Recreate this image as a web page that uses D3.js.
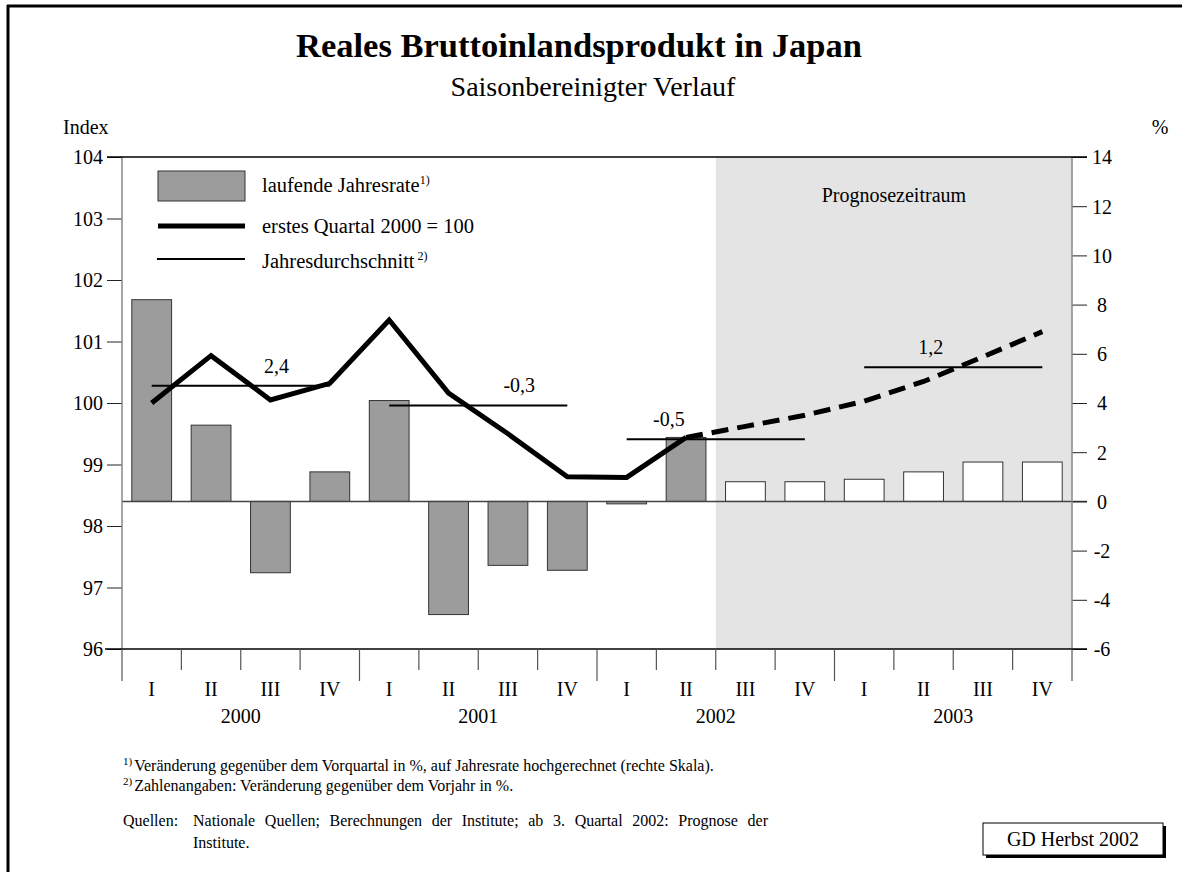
<!DOCTYPE html>
<html>
<head>
<meta charset="utf-8">
<script src="https://cdn.jsdelivr.net/npm/d3@7"></script>
<style>
  body { margin: 0; background: #fff; }
  text { font-family: "Liberation Serif", "Times New Roman", serif; fill: #000; }
</style>
</head>
<body>
<svg id="chart"></svg>
<script>
// Quartale und Jahre
const quarters = ["I", "II", "III", "IV", "I", "II", "III", "IV", "I", "II", "III", "IV", "I", "II", "III", "IV"];
const years = ["2000", "2001", "2002", "2003"];

// laufende Jahresrate in % (rechte Skala)
const rate = [8.2, 3.1, -2.9, 1.2, 4.1, -4.6, -2.6, -2.8, -0.1, 2.6, 0.8, 0.8, 0.9, 1.2, 1.6, 1.6];

// Index, erstes Quartal 2000 = 100 (linke Skala)
const index = [100.0, 100.77, 100.05, 100.32, 101.35, 100.16, 99.5, 98.8, 98.79, 99.44, 99.62, 99.8, 100.03, 100.35, 100.75, 101.16];

// Jahresdurchschnitt (Indexniveau) und Veränderung gegenüber Vorjahr
const yearAvg = [100.28, 99.96, 99.41, 100.58];
const yearAvgLabels = ["2,4", "-0,3", "-0,5", "1,2"];

// ab 3. Quartal 2002 Prognose
const forecastStart = 10;

const leftTicks = [96, 97, 98, 99, 100, 101, 102, 103, 104];
const rightTicks = [-6, -4, -2, 0, 2, 4, 6, 8, 10, 12, 14];

// Lage der Beschriftungen (in Quartalseinheiten)
const avgLabelPos = [2.6, 6.69, 9.21, 13.62];

const width = 1182, height = 872;
const x0 = 122, x1 = 1072, yTop = 157, yBot = 649;

const svg = d3.select("#chart")
    .attr("width", width)
    .attr("height", height)
    .attr("viewBox", [0, 0, width, height]);

svg.append("rect").attr("width", width).attr("height", height).attr("fill", "#fff");

// Rahmen oben und links
svg.append("line").attr("x1", 7).attr("x2", width).attr("y1", 6).attr("y2", 6)
    .attr("stroke", "#000").attr("stroke-width", 3);
svg.append("line").attr("x1", 8).attr("x2", 8).attr("y1", 5).attr("y2", height)
    .attr("stroke", "#000").attr("stroke-width", 3);

// Skalen
const x = d3.scaleBand().domain(d3.range(quarters.length)).range([x0, x1])
    .paddingInner(0.33).paddingOuter(0.165);
const xq = d3.scaleLinear().domain([0, quarters.length]).range([x0, x1]);
const xc = i => x(i) + x.bandwidth() / 2;
const yL = d3.scaleLinear().domain([96, 104]).range([yBot, yTop]);
const yR = d3.scaleLinear().domain([-6, 14]).range([yBot, yTop]);

// Prognosezeitraum
svg.append("rect")
    .attr("x", xq(forecastStart)).attr("y", yTop)
    .attr("width", x1 - xq(forecastStart)).attr("height", yBot - yTop)
    .attr("fill", "#e4e4e4");

svg.append("text")
    .attr("x", (xq(forecastStart) + x1) / 2).attr("y", 202)
    .attr("text-anchor", "middle").attr("font-size", 20)
    .text("Prognosezeitraum");

// Balken
svg.append("g").selectAll("rect")
    .data(rate)
    .join("rect")
    .attr("x", (d, i) => x(i))
    .attr("y", d => yR(Math.max(0, d)))
    .attr("width", x.bandwidth())
    .attr("height", d => Math.abs(yR(d) - yR(0)))
    .attr("fill", (d, i) => i >= forecastStart ? "#fff" : "#9c9c9c")
    .attr("stroke", "#333")
    .attr("stroke-width", 1);

// Nulllinie
svg.append("line")
    .attr("x1", x0).attr("x2", x1 + 15)
    .attr("y1", yR(0)).attr("y2", yR(0))
    .attr("stroke", "#444").attr("stroke-width", 1.5);

// Jahresdurchschnitt
svg.append("g").selectAll("line")
    .data(yearAvg)
    .join("line")
    .attr("x1", (d, i) => xc(i * 4))
    .attr("x2", (d, i) => xc(i * 4 + 3))
    .attr("y1", d => yL(d)).attr("y2", d => yL(d))
    .attr("stroke", "#000").attr("stroke-width", 2);

svg.append("g").selectAll("text")
    .data(yearAvgLabels)
    .join("text")
    .attr("x", (d, i) => xq(avgLabelPos[i]))
    .attr("y", (d, i) => yL(yearAvg[i]) - 13)
    .attr("text-anchor", "middle").attr("font-size", 20)
    .text(d => d);

// Indexlinie
const line = d3.line().x(d => xc(d.i)).y(d => yL(d.v));
const pts = index.map((v, i) => ({ i, v }));

svg.append("path")
    .attr("d", line(pts.slice(0, forecastStart)))
    .attr("fill", "none").attr("stroke", "#000").attr("stroke-width", 5)
    .attr("stroke-linejoin", "miter");

svg.append("path")
    .attr("d", line(pts.slice(forecastStart - 1)))
    .attr("fill", "none").attr("stroke", "#000").attr("stroke-width", 5)
    .attr("stroke-dasharray", "17,9");

// linke Achse
const leftAxis = svg.append("g")
    .attr("transform", `translate(${x0},0)`)
    .call(d3.axisLeft(yL).tickValues(leftTicks).tickSize(15).tickPadding(4).tickFormat(d => String(d)));
leftAxis.select(".domain").remove();
leftAxis.selectAll(".tick line").attr("stroke", "#222");
leftAxis.selectAll(".tick text").attr("font-size", 20).attr("font-family", "Liberation Serif").attr("dy", "0.34em");
svg.append("line").attr("x1", x0).attr("x2", x0).attr("y1", yTop).attr("y2", yBot)
    .attr("stroke", "#888").attr("stroke-width", 1.5);

// rechte Achse
const rightAxis = svg.append("g")
    .attr("transform", `translate(${x1},0)`)
    .call(d3.axisRight(yR).tickValues(rightTicks).tickSize(15).tickPadding(15).tickFormat(d => String(d)));
rightAxis.select(".domain").remove();
rightAxis.selectAll(".tick line").attr("stroke", "#222");
rightAxis.selectAll(".tick text").attr("font-size", 20).attr("font-family", "Liberation Serif")
    .attr("text-anchor", "middle").attr("x", 30).attr("dy", "0.34em");
svg.append("line").attr("x1", x1).attr("x2", x1).attr("y1", yTop).attr("y2", yBot)
    .attr("stroke", "#888").attr("stroke-width", 1.5);

// obere und untere Begrenzung
svg.append("line").attr("x1", x0 - 15).attr("x2", x1 + 15).attr("y1", yTop).attr("y2", yTop)
    .attr("stroke", "#000").attr("stroke-width", 1.5);
svg.append("line").attr("x1", x0 - 17).attr("x2", x1 + 15).attr("y1", yBot).attr("y2", yBot)
    .attr("stroke", "#000").attr("stroke-width", 1.5);

// x-Achse: Quartalsgrenzen
svg.append("g").selectAll("line")
    .data(d3.range(quarters.length + 1))
    .join("line")
    .attr("x1", d => xq(d)).attr("x2", d => xq(d))
    .attr("y1", yBot).attr("y2", d => d % 4 === 0 ? yBot + 32 : yBot + 21)
    .attr("stroke", "#555").attr("stroke-width", 1.2);

svg.append("g").selectAll("text")
    .data(quarters)
    .join("text")
    .attr("x", (d, i) => xc(i)).attr("y", 696)
    .attr("text-anchor", "middle").attr("font-size", 20)
    .text(d => d);

svg.append("g").selectAll("text")
    .data(years)
    .join("text")
    .attr("x", (d, i) => xq(i * 4 + 2)).attr("y", 723)
    .attr("text-anchor", "middle").attr("font-size", 20)
    .text(d => d);

// Titel
svg.append("text").attr("x", 579).attr("y", 57).attr("text-anchor", "middle")
    .attr("font-size", 34.5).attr("font-weight", "bold")
    .text("Reales Bruttoinlandsprodukt in Japan");
svg.append("text").attr("x", 593).attr("y", 96).attr("text-anchor", "middle")
    .attr("font-size", 28)
    .text("Saisonbereinigter Verlauf");

svg.append("text").attr("x", 63).attr("y", 134).attr("font-size", 20).text("Index");
svg.append("text").attr("x", 1160).attr("y", 134).attr("text-anchor", "middle").attr("font-size", 20).text("%");

// Legende
const legend = svg.append("g");
legend.append("rect").attr("x", 158).attr("y", 171).attr("width", 87).attr("height", 30)
    .attr("fill", "#9c9c9c").attr("stroke", "#333");
legend.append("line").attr("x1", 158).attr("x2", 245).attr("y1", 226).attr("y2", 226)
    .attr("stroke", "#000").attr("stroke-width", 5);
legend.append("line").attr("x1", 157).attr("x2", 245).attr("y1", 259).attr("y2", 259)
    .attr("stroke", "#000").attr("stroke-width", 2);

const legendText = [
    { y: 192, label: "laufende Jahresrate", sup: "1)", supGap: 0 },
    { y: 233, label: "erstes Quartal 2000 = 100", sup: "", supGap: 0 },
    { y: 268, label: "Jahresdurchschnitt", sup: "2)", supGap: 3 }
];
legendText.forEach(d => {
    const t = legend.append("text").attr("x", 262).attr("y", d.y).attr("font-size", 20.5);
    t.append("tspan").text(d.label);
    if (d.sup) t.append("tspan").attr("dx", d.supGap).attr("dy", -8).attr("font-size", 12).text(d.sup);
});

// Fußnoten
const notes = svg.append("g");
const n1 = notes.append("text").attr("x", 123).attr("y", 771);
n1.append("tspan").attr("font-size", 11).attr("dy", -6).text("1)");
n1.append("tspan").attr("dx", 2).attr("dy", 6).attr("font-size", 16)
    .text("Veränderung gegenüber dem Vorquartal in %, auf Jahresrate hochgerechnet (rechte Skala).");
const n2 = notes.append("text").attr("x", 123).attr("y", 791);
n2.append("tspan").attr("font-size", 11).attr("dy", -6).text("2)");
n2.append("tspan").attr("dx", 2).attr("dy", 6).attr("font-size", 16)
    .text("Zahlenangaben: Veränderung gegenüber dem Vorjahr in %.");

notes.append("text").attr("x", 123).attr("y", 826).attr("font-size", 16).text("Quellen:");
// Blocksatz über Wortabstand
const srcLine = "Nationale Quellen; Berechnungen der Institute; ab 3. Quartal 2002: Prognose der";
const src = notes.append("text").attr("x", 193).attr("y", 826).attr("font-size", 16).text(srcLine);
const gaps = srcLine.split(" ").length - 1;
src.attr("word-spacing", (575 - src.node().getComputedTextLength()) / gaps);
notes.append("text").attr("x", 193).attr("y", 848).attr("font-size", 16).text("Institute.");

// Kennung
svg.append("rect").attr("x", 986).attr("y", 826).attr("width", 180).attr("height", 32).attr("fill", "#000");
svg.append("rect").attr("x", 983).attr("y", 823).attr("width", 180).attr("height", 32)
    .attr("fill", "#fff").attr("stroke", "#000").attr("stroke-width", 1);
svg.append("text").attr("x", 1073).attr("y", 846).attr("text-anchor", "middle").attr("font-size", 20)
    .text("GD Herbst 2002");
</script>
</body>
</html>
